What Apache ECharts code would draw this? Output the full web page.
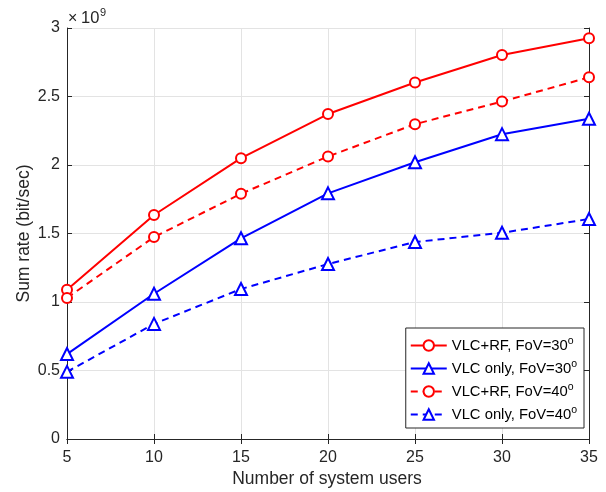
<!DOCTYPE html>
<html><head><meta charset="utf-8">
<script src="https://cdn.jsdelivr.net/npm/echarts@6/dist/echarts.min.js"></script>
<style>html,body{margin:0;padding:0;background:#fff}#c{width:606px;height:492px}</style>
</head><body><div id="c"></div>
<script>
const users = [5, 10, 15, 20, 25, 30, 35];
const vlcRf30 = [1.09, 1.635, 2.05, 2.372, 2.602, 2.803, 2.925];
const vlcOnly30 = [0.62, 1.06, 1.465, 1.793, 2.02, 2.225, 2.338];
const vlcRf40 = [1.03, 1.474, 1.79, 2.062, 2.298, 2.463, 2.64];
const vlcOnly40 = [0.49, 0.84, 1.095, 1.277, 1.438, 1.505, 1.606];
const seriesNames = ['VLC+RF, FoV=30', 'VLC only, FoV=30', 'VLC+RF, FoV=40', 'VLC only, FoV=40'];
const xTitle = 'Number of system users';
const yTitle = 'Sum rate (bit/sec)';

const FONT = 'Liberation Sans';
const AX = '#262626';
const chart = echarts.init(document.getElementById('c'), null, {renderer: 'canvas'});

function mk(name, data, color, symbol, dashed, size) {
  return {
    name, type: 'line', data: users.map((u, i) => [u, data[i]]),
    xAxisIndex: 0, yAxisIndex: 0,
    symbol, symbolSize: size, showAllSymbol: true,
    lineStyle: {color, width: 2, type: dashed ? [7, 5] : 'solid'},
    itemStyle: {color: '#fff', borderColor: color, borderWidth: 2},
    emphasis: {disabled: true}, animation: false, z: 3
  };
}

chart.setOption({
  animation: false,
  backgroundColor: '#fff',
  grid: {left: 67, right: 17, top: 28, bottom: 53, containLabel: false},
  xAxis: [
    {type: 'value', min: 5, max: 35, interval: 5, position: 'bottom',
     axisLine: {show: true, lineStyle: {color: AX, width: 1}},
     axisTick: {show: true, inside: true, length: 5, lineStyle: {color: AX}},
     axisLabel: {fontFamily: FONT, fontSize: 16, color: AX, margin: 11},
     splitLine: {show: true, lineStyle: {color: '#e3e3e3', width: 1}}},
    {type: 'value', min: 5, max: 35, interval: 5, position: 'top',
     axisLine: {show: true, lineStyle: {color: AX, width: 1}},
     axisTick: {show: true, inside: true, length: 5, lineStyle: {color: AX}},
     axisLabel: {show: false}, splitLine: {show: false}}
  ],
  yAxis: [
    {type: 'value', min: 0, max: 3, interval: 0.5, position: 'left',
     axisLine: {show: true, lineStyle: {color: AX, width: 1}},
     axisTick: {show: true, inside: true, length: 5, lineStyle: {color: AX}},
     axisLabel: {fontFamily: FONT, fontSize: 16, color: AX, margin: 7, padding: [3, 0, 0, 0]},
     splitLine: {show: true, lineStyle: {color: '#e3e3e3', width: 1}}},
    {type: 'value', min: 0, max: 3, interval: 0.5, position: 'right',
     axisLine: {show: true, lineStyle: {color: AX, width: 1}},
     axisTick: {show: true, inside: true, length: 5, lineStyle: {color: AX}},
     axisLabel: {show: false}, splitLine: {show: false}}
  ],
  legend: {
    orient: 'vertical', right: 22, top: 328,
    backgroundColor: '#fff', borderColor: AX, borderWidth: 1,
    padding: [8, 7, 6, 4], itemGap: 6, itemWidth: 36, itemHeight: 13,
    data: seriesNames,
    formatter: n => n + '{sup|o}',
    textStyle: {fontFamily: FONT, fontSize: 14.8, color: '#000',
      rich: {sup: {fontFamily: FONT, fontSize: 10.5, color: '#000', padding: [0, 0, 8, 0]}}}
  },
  graphic: [
    {type: 'text', x: 24, y: 233.5, rotation: Math.PI / 2,
     style: {text: yTitle, fontFamily: FONT, fontSize: 17.5, fill: AX, align: 'center', verticalAlign: 'middle'}},
    {type: 'text', x: 327, y: 479.5,
     style: {text: xTitle, fontFamily: FONT, fontSize: 17.5, fill: AX, align: 'center', verticalAlign: 'middle'}},
    {type: 'text', x: 68, y: 18.5,
     style: {text: '×', fontFamily: FONT, fontSize: 16, fill: AX, align: 'left', verticalAlign: 'middle'}},
    {type: 'text', x: 81, y: 18.7,
     style: {text: '10', fontFamily: FONT, fontSize: 16.5, fill: AX, align: 'left', verticalAlign: 'middle'}},
    {type: 'text', x: 100, y: 12.7,
     style: {text: '9', fontFamily: FONT, fontSize: 11, fill: AX, align: 'left', verticalAlign: 'middle'}}
  ],
  series: [
    mk(seriesNames[0], vlcRf30, '#ff0000', 'circle', false, 10),
    mk(seriesNames[1], vlcOnly30, '#0000ff', 'triangle', false, 12),
    mk(seriesNames[2], vlcRf40, '#ff0000', 'circle', true, 10),
    mk(seriesNames[3], vlcOnly40, '#0000ff', 'triangle', true, 12)
  ]
});
</script></body></html>
